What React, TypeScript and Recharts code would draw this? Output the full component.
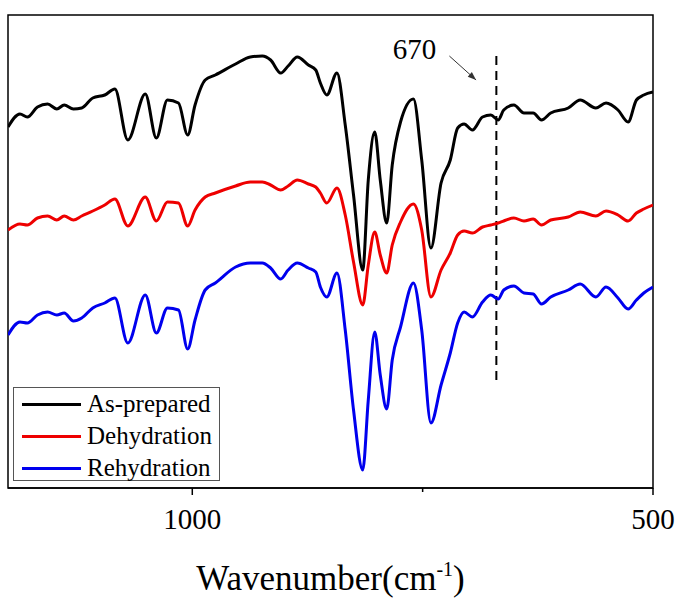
import { LineChart, Line, XAxis, YAxis, ReferenceLine, ReferenceArea } from "recharts";

// wavenumber (cm-1) and offset transmittance traces (arbitrary units)
const wavenumber = [
  1200, 1187, 1179, 1168, 1157, 1147, 1139, 1129, 1120, 1108,
  1095, 1084, 1070, 1051, 1039, 1027, 1015, 1005, 997, 986,
  975, 953, 937, 924, 915, 904, 896, 886, 874, 866,
  861, 854, 843, 834, 825, 815, 809, 802, 796, 789,
  783, 774, 760, 751, 741, 730, 720, 712, 705, 696,
  685, 676, 668, 662, 651, 640, 630, 621, 611, 592,
  579, 562, 551, 538, 527, 518, 510, 500,
];

const asPrepared = [
  361, 374, 371, 381, 384, 379, 383, 379, 380, 390,
  393, 399, 348, 394, 350, 388, 385, 353, 383, 408,
  413, 424, 431, 432, 428, 415, 422, 431, 423, 418,
  405, 393, 415, 363, 293, 218, 308, 356, 308, 265,
  323, 366, 389, 328, 240, 305, 328, 360, 364, 358,
  371, 373, 368, 378, 383, 375, 375, 368, 375, 380,
  388, 380, 385, 378, 366, 388, 393, 396,
];

const dehydration = [
  258, 264, 263, 270, 272, 268, 272, 268, 272, 277,
  283, 289, 262, 291, 267, 286, 285, 262, 278, 291,
  295, 302, 306, 306, 303, 298, 302, 308, 304, 301,
  295, 285, 300, 273, 226, 183, 223, 256, 233, 215,
  243, 266, 284, 258, 191, 218, 235, 253, 257, 255,
  261, 263, 265, 267, 270, 267, 269, 263, 268, 271,
  276, 272, 277, 273, 267, 275, 279, 283,
];

const rehydration = [
  153, 166, 165, 173, 176, 173, 175, 167, 170, 180,
  185, 190, 145, 193, 155, 180, 178, 139, 168, 198,
  205, 221, 225, 225, 220, 209, 218, 225, 220, 216,
  201, 191, 215, 158, 78, 18, 88, 156, 113, 79,
  128, 161, 205, 158, 65, 103, 135, 165, 176, 171,
  186, 193, 189, 198, 202, 195, 194, 184, 191, 198,
  204, 191, 201, 190, 179, 188, 195, 201,
];

const xTicks = [1000, 750, 500];
const labeledTicks = [1000, 500];
const markerWavenumber = 670;

const series = [
  { key: "a", name: "As-prepared", color: "#000000" },
  { key: "d", name: "Dehydration", color: "#ee0000" },
  { key: "r", name: "Rehydration", color: "#0000ee" },
];

const data = wavenumber.map((w, i) => ({
  w,
  a: asPrepared[i],
  d: dehydration[i],
  r: rehydration[i],
}));

const FONT = "Liberation Serif, DejaVu Serif, serif";

function AxisTick(props: any) {
  const { x, y, payload } = props;
  const major = labeledTicks.includes(payload.value);
  return (
    <g>
      <line x1={x} y1={y} x2={x} y2={y + (major ? 7 : 4)} stroke="#000" strokeWidth={1.5} />
      {major && (
        <text x={x} y={y + 41} textAnchor="middle" fontFamily={FONT} fontSize={29} fill="#000">
          {payload.value}
        </text>
      )}
    </g>
  );
}

function AxisTitle(props: any) {
  const vb = props.viewBox;
  return (
    <text x={vb.x + vb.width / 2} y={vb.y + 102} textAnchor="middle" fontFamily={FONT} fontSize={35} fill="#000">
      Wavenumber(cm
      <tspan fontSize={20} dy={-14}>-1</tspan>
      <tspan dy={14}>)</tspan>
    </text>
  );
}

function Arrow(props: any) {
  const { x1, y1, x2, y2 } = props;
  const ang = Math.atan2(y2 - y1, x2 - x1);
  const len = 9;
  const p1x = x2 - len * Math.cos(ang - 0.35);
  const p1y = y2 - len * Math.sin(ang - 0.35);
  const p2x = x2 - len * Math.cos(ang + 0.35);
  const p2y = y2 - len * Math.sin(ang + 0.35);
  return (
    <g>
      <line x1={x1} y1={y1} x2={x2} y2={y2} stroke="#333" strokeWidth={1} />
      <polygon points={`${x2},${y2} ${p1x},${p1y} ${p2x},${p2y}`} fill="#333" />
      <text x={x1 - 13} y={y1 + 3} textAnchor="end" fontFamily={FONT} fontSize={29} fill="#000">
        {markerWavenumber}
      </text>
    </g>
  );
}

function LegendBox() {
  return (
    <div
      style={{
        position: "absolute",
        left: 13,
        top: 387,
        width: 205,
        height: 92,
        border: "1px solid #555",
        background: "#fff",
        fontFamily: FONT,
        fontSize: 25,
      }}
    >
      {series.map((s, i) => (
        <div
          key={s.key}
          style={{
            position: "absolute",
            left: 0,
            top: i * 32,
            height: 32,
            display: "flex",
            alignItems: "center",
            whiteSpace: "nowrap",
          }}
        >
          <span style={{ display: "inline-block", marginLeft: 8, width: 59, height: 3, background: s.color }} />
          <span style={{ marginLeft: 6, color: "#000" }}>{s.name}</span>
        </div>
      ))}
    </div>
  );
}

export default function App() {
  return (
    <div style={{ position: "absolute", left: 0, top: 0, width: 681, height: 601, background: "#fff" }}>
      <LineChart width={681} height={601} data={data} margin={{ top: 15, right: 28, left: 8, bottom: 53 }}>
        <XAxis
          dataKey="w"
          type="number"
          domain={[500, 1200]}
          reversed
          ticks={xTicks}
          interval={0}
          height={60}
          tickLine={false}
          tickSize={0}
          tickMargin={0}
          axisLine={{ stroke: "#000", strokeWidth: 1.5 }}
          tick={<AxisTick />}
          label={{ content: <AxisTitle /> }}
          allowDataOverflow
        />
        <YAxis hide type="number" domain={[0, 473]} allowDataOverflow />
        <ReferenceArea
          x1={1200}
          x2={500}
          y1={0}
          y2={473}
          fill="none"
          fillOpacity={0}
          stroke="#000"
          strokeWidth={1.5}
          ifOverflow="visible"
        />
        <ReferenceLine
          segment={[
            { x: markerWavenumber, y: 108 },
            { x: markerWavenumber, y: 436 },
          ]}
          stroke="#000"
          strokeWidth={2}
          strokeDasharray="9 6"
        />
        <ReferenceLine
          segment={[
            { x: 721, y: 432 },
            { x: 692, y: 408 },
          ]}
          shape={<Arrow />}
        />
        {series.map((s) => (
          <Line
            key={s.key}
            type="monotone"
            dataKey={s.key}
            name={s.name}
            stroke={s.color}
            strokeWidth={3}
            dot={false}
            isAnimationActive={false}
          />
        ))}
      </LineChart>
      <LegendBox />
    </div>
  );
}
